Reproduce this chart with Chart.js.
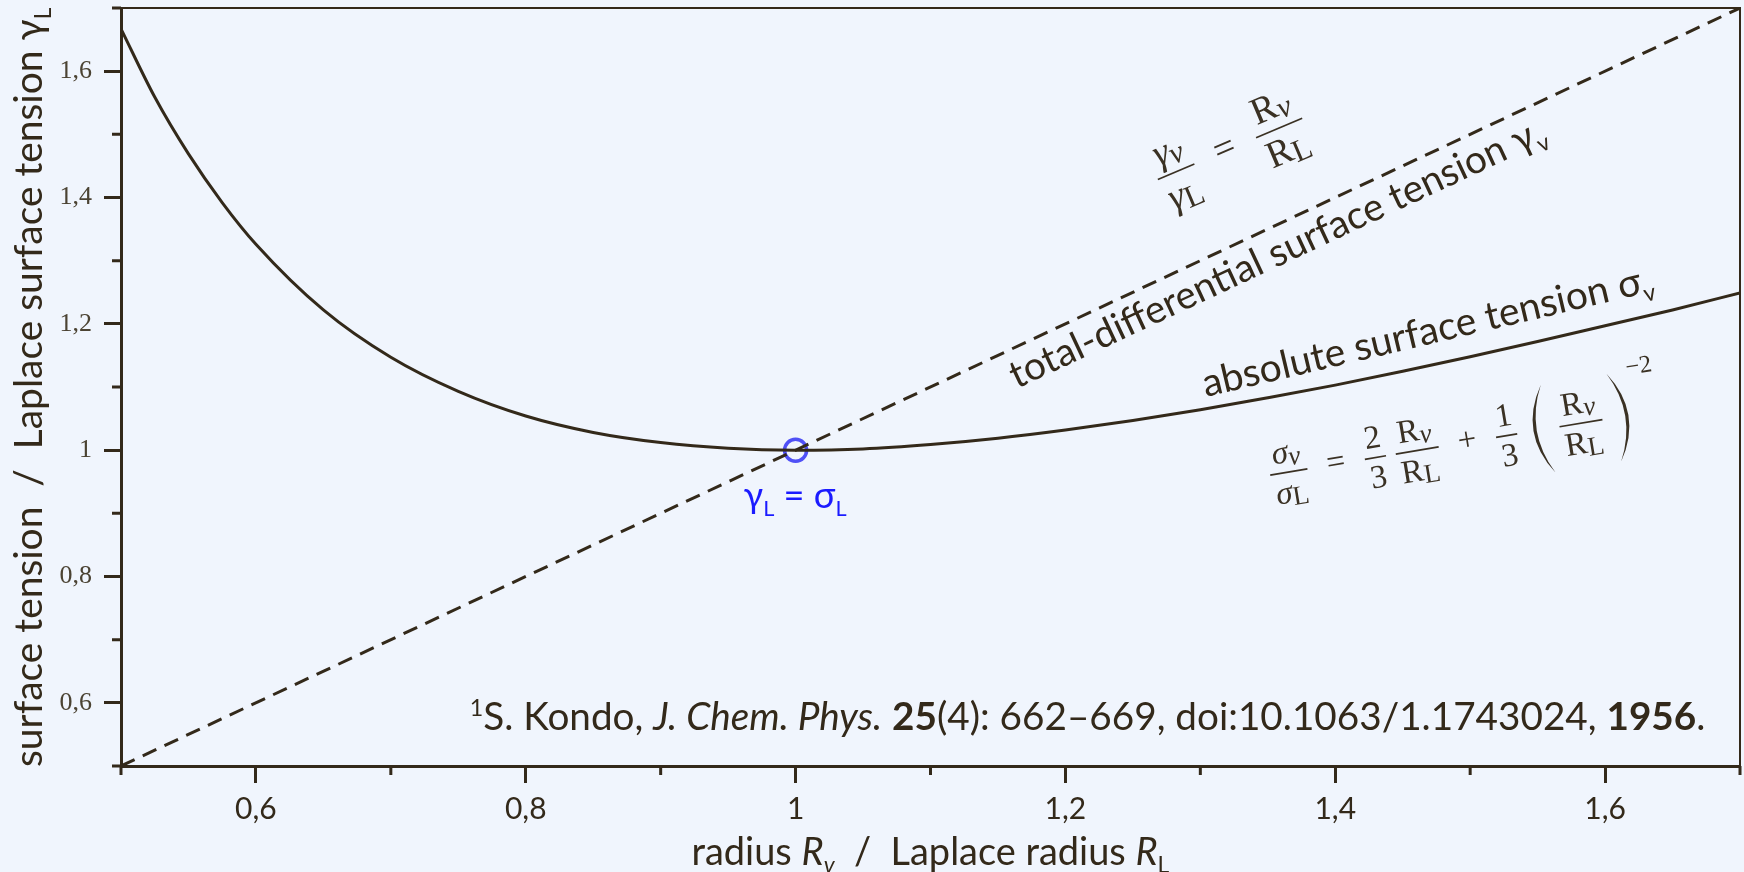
<!DOCTYPE html>
<html>
<head>
<meta charset="utf-8">
<script src="https://cdn.jsdelivr.net/npm/chart.js@4.4.1/dist/chart.umd.min.js"></script>
<style>
  body { margin: 0; background: #f0f5fd; }
  canvas { display: block; }
</style>
</head>
<body>
<canvas id="kondo" width="1744" height="872"></canvas>
<script>
// absolute surface tension sigma_v / sigma_L
var curveX = [0.5, 0.525, 0.55, 0.575, 0.6, 0.65, 0.7, 0.75, 0.8, 0.85, 0.9, 0.95, 1.0, 1.05, 1.1, 1.15, 1.2, 1.25, 1.3, 1.35, 1.4, 1.45, 1.5, 1.55, 1.6, 1.65, 1.7];
var curveY = [1.667, 1.559, 1.469, 1.392, 1.326, 1.222, 1.147, 1.093, 1.054, 1.028, 1.012, 1.003, 1.000, 1.002, 1.009, 1.019, 1.032, 1.047, 1.064, 1.083, 1.103, 1.125, 1.148, 1.172, 1.197, 1.222, 1.249];
// total-differential surface tension gamma_v / gamma_L (dashed)
var diagX = [0.5, 1.7];
var diagY = [0.5, 1.7];
// gamma_L = sigma_L
var meetX = [1];
var meetY = [1];

var xMajor = [0.6, 0.8, 1, 1.2, 1.4, 1.6];
var xMinor = [0.5, 0.7, 0.9, 1.1, 1.3, 1.5, 1.7];
var yMajor = [0.6, 0.8, 1, 1.2, 1.4, 1.6];
var yMinor = [0.5, 0.7, 0.9, 1.1, 1.3, 1.5, 1.7];
var xLabels = ['0,6', '0,8', '1', '1,2', '1,4', '1,6'];
var yLabels = ['0,6', '0,8', '1', '1,2', '1,4', '1,6'];

var ink = '#33291a';
var sans = 'Lato, "Open Sans", sans-serif';

function pts(xs, ys) {
  return xs.map(function (x, i) { return { x: x, y: ys[i] }; });
}

// --- rich text (sub/superscripts, italic, bold) ---
function runFont(r, size) {
  var s = r.sub || r.sup ? size * 0.6 : size;
  return (r.it ? 'italic ' : '') + (r.b ? 'bold ' : '') + s + 'px ' + (r.fam || sans);
}
function runsWidth(ctx, runs, size) {
  var w = 0;
  runs.forEach(function (r) { ctx.font = runFont(r, size); w += ctx.measureText(r.t).width; });
  return w;
}
function drawRuns(ctx, runs, x, y, size) {
  runs.forEach(function (r) {
    ctx.font = runFont(r, size);
    var dy = r.sub ? size * 0.22 : (r.sup ? -size * 0.36 : 0);
    ctx.fillText(r.t, x, y + dy);
    x += ctx.measureText(r.t).width;
  });
}
function fitSize(ctx, runs, width) {
  return 40 * width / runsWidth(ctx, runs, 40);
}

// --- small formula layout ---
function mathFont(size, it) {
  return (it ? 'italic ' : '') + size + 'px "Liberation Serif", "DejaVu Serif", serif';
}
function rowW(ctx, row, s) {
  var w = 0;
  row.forEach(function (r) { ctx.font = mathFont(r.sub ? s * 0.82 : s, r.it); w += ctx.measureText(r.t).width; });
  return w;
}
function drawRow(ctx, row, x, y, s) {
  row.forEach(function (r) {
    ctx.font = mathFont(r.sub ? s * 0.82 : s, r.it);
    ctx.fillText(r.t, x, y + (r.sub ? s * 0.1 : 0));
    x += ctx.measureText(r.t).width;
  });
}
function itemW(ctx, it, s) {
  if (it.frac) return Math.max(rowW(ctx, it.frac[0], s), rowW(ctx, it.frac[1], s)) + 0.15 * s;
  if (it.op) { ctx.font = mathFont(s, false); return ctx.measureText(it.op).width; }
  if (it.paren) return 0.45 * s;
  ctx.font = mathFont(0.75 * s, false); return ctx.measureText(it.sup).width;
}
function drawParen(ctx, x, w, s, left) {
  var h = 1.35 * s, th = 0.2 * s;
  var end = left ? x + w : x;
  var ctrl = left ? x - w : x + 2 * w;
  var dir = left ? 1 : -1;
  ctx.beginPath();
  ctx.moveTo(end, -h);
  ctx.quadraticCurveTo(ctrl, 0, end, h);
  ctx.quadraticCurveTo(ctrl + dir * th, 0, end, -h);
  ctx.fill();
}
function drawFormula(ctx, items, cx, cy, angle, s) {
  var x = 0, placed = [];
  items.forEach(function (it) {
    x += (it.gap || 0) * s;
    var w = itemW(ctx, it, s);
    placed.push({ it: it, x: x, w: w });
    x += w;
  });
  ctx.save();
  ctx.translate(cx, cy);
  ctx.rotate(-angle * Math.PI / 180);
  ctx.translate(-x / 2, 0);
  ctx.fillStyle = '#3a3124';
  ctx.strokeStyle = '#3a3124';
  ctx.lineWidth = 1.7;
  placed.forEach(function (p) {
    var it = p.it;
    if (it.frac) {
      var nw = rowW(ctx, it.frac[0], s), dw = rowW(ctx, it.frac[1], s);
      drawRow(ctx, it.frac[0], p.x + (p.w - nw) / 2, -0.3 * s, s);
      drawRow(ctx, it.frac[1], p.x + (p.w - dw) / 2, 0.92 * s, s);
      ctx.beginPath(); ctx.moveTo(p.x, 0); ctx.lineTo(p.x + p.w, 0); ctx.stroke();
    } else if (it.op) {
      ctx.font = mathFont(s, false);
      ctx.fillText(it.op, p.x, 0.24 * s);
    } else if (it.paren) {
      drawParen(ctx, p.x, p.w, s, it.paren === '(');
    } else {
      ctx.font = mathFont(0.75 * s, false);
      ctx.fillText(it.sup, p.x, -1.2 * s);
    }
  });
  ctx.restore();
}

var Rnu = [{ t: 'R' }, { t: 'ν', it: true, sub: true }];
var RL = [{ t: 'R' }, { t: 'L', sub: true }];
var gammaFormula = [
  { frac: [[{ t: 'γ', it: true }, { t: 'ν', it: true, sub: true }], [{ t: 'γ', it: true }, { t: 'L', sub: true }]] },
  { op: '=', gap: 0.6 },
  { frac: [Rnu, RL], gap: 0.6 }
];
var sigmaFormula = [
  { frac: [[{ t: 'σ', it: true }, { t: 'ν', it: true, sub: true }], [{ t: 'σ', it: true }, { t: 'L', sub: true }]] },
  { op: '=', gap: 0.6 },
  { frac: [[{ t: '2' }], [{ t: '3' }]], gap: 0.6 },
  { frac: [Rnu, RL], gap: 0.3 },
  { op: '+', gap: 0.6 },
  { frac: [[{ t: '1' }], [{ t: '3' }]], gap: 0.6 },
  { paren: '(', gap: 0.5 },
  { frac: [Rnu, RL], gap: 0.35 },
  { paren: ')', gap: 0.35 },
  { sup: '−2', gap: 0.15 }
];

var decor = {
  id: 'decor',
  beforeDraw: function (chart) {
    var ctx = chart.ctx;
    ctx.save();
    ctx.fillStyle = '#f0f5fd';
    ctx.fillRect(0, 0, chart.width, chart.height);
    ctx.restore();
  },
  afterDraw: function (chart) {
    var ctx = chart.ctx, a = chart.chartArea;
    var xs = chart.scales.x, ys = chart.scales.y;
    ctx.save();
    // frame top/right
    ctx.strokeStyle = ink;
    ctx.lineWidth = 2;
    ctx.beginPath();
    ctx.moveTo(a.left, a.top); ctx.lineTo(a.right, a.top); ctx.lineTo(a.right, a.bottom);
    ctx.stroke();
    // minor ticks
    ctx.lineWidth = 3;
    ctx.beginPath();
    xMinor.forEach(function (v) { var p = xs.getPixelForValue(v); ctx.moveTo(p, a.bottom); ctx.lineTo(p, a.bottom + 9); });
    yMinor.forEach(function (v) { var p = ys.getPixelForValue(v); ctx.moveTo(a.left - 9, p); ctx.lineTo(a.left, p); });
    ctx.stroke();

    ctx.fillStyle = ink;
    ctx.textBaseline = 'alphabetic';
    // axis titles
    var xt = [{ t: 'radius ' }, { t: 'R', it: true }, { t: 'v', it: true, sub: true }, { t: '  /  Laplace radius ' }, { t: 'R', it: true }, { t: 'L', sub: true }];
    var s = fitSize(ctx, xt, 478);
    drawRuns(ctx, xt, (a.left + a.right) / 2 - 239, 865, s);

    var yt = [{ t: 'surface tension  /  Laplace surface tension γ' }, { t: 'L', sub: true }];
    s = fitSize(ctx, yt, 760);
    ctx.save();
    ctx.translate(42, (a.top + a.bottom) / 2);
    ctx.rotate(-Math.PI / 2);
    drawRuns(ctx, yt, -380, 0, s);
    ctx.restore();

    // curve labels, rotated along the lines
    var diagAng = Math.atan2(ys.getPixelForValue(0.5) - ys.getPixelForValue(1.7), xs.getPixelForValue(1.7) - xs.getPixelForValue(0.5));
    var t1 = [{ t: 'total-differential surface tension γ' }, { t: 'v', sub: true }];
    s = fitSize(ctx, t1, 587);
    ctx.save();
    ctx.translate(xs.getPixelForValue(1.164), ys.getPixelForValue(1.097));
    ctx.rotate(-diagAng);
    drawRuns(ctx, t1, 0, 0, s);
    ctx.restore();

    var t2 = [{ t: 'absolute surface tension σ' }, { t: 'v', sub: true }];
    s = fitSize(ctx, t2, 462);
    ctx.save();
    ctx.translate(xs.getPixelForValue(1.304), ys.getPixelForValue(1.084));
    ctx.rotate(-13.3 * Math.PI / 180);
    drawRuns(ctx, t2, 0, 0, s);
    ctx.restore();

    // formulas
    drawFormula(ctx, gammaFormula, xs.getPixelForValue(1.322), ys.getPixelForValue(1.477), 23, 38);
    drawFormula(ctx, sigmaFormula, xs.getPixelForValue(1.496), ys.getPixelForValue(1.012), 9.5, 33);

    // meeting point label
    ctx.fillStyle = '#1b1bff';
    var t3 = [{ t: 'γ' }, { t: 'L', sub: true }, { t: ' = σ' }, { t: 'L', sub: true }];
    s = fitSize(ctx, t3, 103);
    drawRuns(ctx, t3, xs.getPixelForValue(1) - 52, ys.getPixelForValue(0.9084), s);

    // reference
    ctx.fillStyle = ink;
    var cite = [{ t: '1', sup: true }, { t: 'S. Kondo, ' }, { t: 'J. Chem. Phys.', it: true }, { t: ' ' }, { t: '25', b: true },
      { t: '(4): 662–669, doi:10.1063/1.1743024, ' }, { t: '1956', b: true }, { t: '.' }];
    s = fitSize(ctx, cite, 1236);
    drawRuns(ctx, cite, xs.getPixelForValue(0.7585), ys.getPixelForValue(0.557), s);
    ctx.restore();
  }
};

var ctxK = document.getElementById('kondo').getContext('2d');
var kondoChart = new Chart(ctxK, {
  type: 'scatter',
  data: {
    datasets: [{
        label: 'sigma',
        data: pts(curveX, curveY),
        showLine: true,
        borderColor: ink,
        borderWidth: 3,
        pointRadius: 0,
        cubicInterpolationMode: 'monotone'
      },
      {
        label: 'gamma',
        data: pts(diagX, diagY),
        showLine: true,
        borderColor: ink,
        borderWidth: 3,
        borderDash: [15, 9],
        pointRadius: 0
      },
      {
        label: 'meet',
        data: pts(meetX, meetY),
        pointRadius: 11,
        pointBorderWidth: 3.5,
        pointBorderColor: 'rgba(50, 50, 245, 0.85)',
        pointBackgroundColor: 'rgba(0, 0, 0, 0)'
      }
    ]
  },
  options: {
    responsive: false,
    animation: false,
    devicePixelRatio: 1,
    layout: { autoPadding: false, padding: { top: 8, right: 4, left: 0, bottom: 0 } },
    plugins: { legend: { display: false }, tooltip: { enabled: false } },
    scales: {
      x: {
        type: 'linear',
        min: 0.5,
        max: 1.7,
        afterBuildTicks: function (scale) { scale.ticks = xMajor.map(function (v) { return { value: v }; }); },
        afterFit: function (scale) { scale.height = 106; scale.paddingLeft = 0; scale.paddingRight = 0; },
        ticks: {
          autoSkip: false,
          maxRotation: 0,
          padding: 8,
          color: ink,
          font: { family: sans, size: 30 },
          callback: function (v, i) { return xLabels[i]; }
        },
        grid: { drawOnChartArea: false, tickLength: 17, tickWidth: 3, tickColor: ink },
        border: { display: true, color: ink, width: 3 }
      },
      y: {
        type: 'linear',
        min: 0.5,
        max: 1.7,
        afterBuildTicks: function (scale) { scale.ticks = yMajor.map(function (v) { return { value: v }; }); },
        afterFit: function (scale) { scale.width = 121; scale.paddingTop = 0; scale.paddingBottom = 0; },
        ticks: {
          autoSkip: false,
          padding: 12,
          color: '#4b4333',
          font: { family: '"Liberation Serif", serif', size: 26 },
          callback: function (v, i) { return yLabels[i]; }
        },
        grid: { drawOnChartArea: false, tickLength: 17, tickWidth: 3, tickColor: ink },
        border: { display: true, color: ink, width: 3 }
      }
    }
  },
  plugins: [decor]
});
</script>
</body>
</html>
